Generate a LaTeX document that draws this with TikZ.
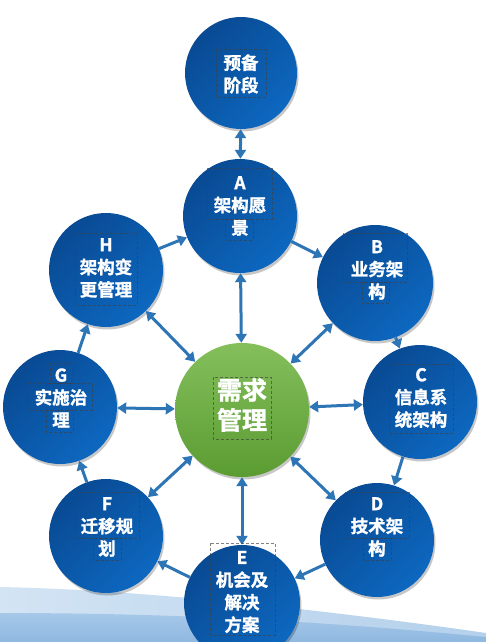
\documentclass[tikz,border=0pt]{standalone}
\usepackage{fontspec}
\newfontfamily\cjk{Noto Sans CJK SC Bold}[FakeBold=1.3]
\usetikzlibrary{arrows.meta,shadows}
\definecolor{arrowblue}{HTML}{2E75B6}
\definecolor{cdark}{HTML}{094A93}
\definecolor{clight}{HTML}{0D68C0}
\definecolor{gtop}{HTML}{84BF5C}
\definecolor{gbot}{HTML}{5B9C32}
\definecolor{wavelightL}{HTML}{D3E4F4}
\definecolor{wavelightR}{HTML}{B4D0EB}
\definecolor{wavedarkT}{HTML}{A6C8E9}
\definecolor{wavedarkB}{HTML}{8FB8E0}
\tikzset{
  phase/.style={circle, minimum size=#1, inner sep=0pt, top color=cdark, bottom color=clight, shading angle=45,
    drop shadow={shadow xshift=1.5pt, shadow yshift=-2.5pt, fill=black, opacity=0.22}},
  hub/.style={circle, minimum size=#1, inner sep=0pt, top color=gtop, bottom color=gbot,
    drop shadow={shadow xshift=1.5pt, shadow yshift=-2.5pt, fill=black, opacity=0.22}},
  lbl/.style={text=white, align=center, inner sep=0pt, font=\cjk\fontsize{17.5}{22.5}\selectfont},
  hublbl/.style={text=white, align=center, inner sep=0pt, font=\cjk\fontsize{25}{30}\selectfont},
  tbox/.style={draw=black!75, opacity=0.65, line width=0.7pt, dash pattern=on 3pt off 2pt},
  flow/.style={draw=arrowblue, line width=3pt, -{Triangle[length=9pt,width=11pt]}},
  both/.style={draw=arrowblue, line width=3pt, {Triangle[length=9pt,width=11pt]}-{Triangle[length=9pt,width=11pt]}}
}
\begin{document}
\begin{tikzpicture}[x=1pt,y=-1pt]
\clip (0,0) rectangle (486,642);
\fill[white] (0,0) rectangle (486,642);
% background wave
\shade[left color=wavelightL, right color=wavelightR] (0,587) .. controls (150,590) and (340,612) .. (486,633) -- (486,642) -- (0,642) -- cycle;
\shade[top color=wavedarkT, bottom color=wavedarkB] (0,613) .. controls (200,613) and (350,624) .. (486,637) -- (486,642) -- (0,642) -- cycle;
% circles
\node[phase=112] (P) at (241,73) {};
\node[phase=114] (A) at (240,216) {};
\node[phase=116] (B) at (375,283) {};
\node[phase=114] (C) at (420,402) {};
\node[phase=114] (D) at (377,540) {};
\node[phase=116] (E) at (242,603) {};
\node[phase=114] (F) at (106,536) {};
\node[phase=114] (G) at (60,407) {};
\node[phase=114] (H) at (106,270) {};
\node[hub=134] (M) at (242,410) {};
% arrows
\draw[both] (P) -- (A);
\draw[flow] (A) -- (B);
\draw[flow] (B) -- (C);
\draw[flow] (C) -- (D);
\draw[flow] (D) -- (E);
\draw[flow] (E) -- (F);
\draw[flow] (F) -- (G);
\draw[flow] (G) -- (H);
\draw[flow] (H) -- (A);
\foreach \n in {A,B,C,D,E,F,G,H} \draw[both] (M) -- (\n);
% labels
\node[lbl] (tP) at (241,74) {预备\\阶段};
\node[lbl] (tA) at (240,206) {A\\架构愿\\景};
\node[lbl] (tB) at (377,270) {B\\业务架\\构};
\node[lbl] (tC) at (421,398) {C\\信息系\\统架构};
\node[lbl] (tD) at (377,527) {D\\技术架\\构};
\node[lbl] (tE) at (242,592) {E\\机会及\\解决\\方案};
\node[lbl] (tF) at (107,527) {F\\迁移规\\划};
\node[lbl] (tG) at (61,398) {G\\实施治\\理};
\node[lbl] (tH) at (106,268) {H\\架构变\\更管理};
\node[hublbl] (tM) at (242,405) {需求\\管理};
% dashed text frames
\draw[tbox] (216,49) rectangle (266,97);
\draw[tbox] (207,168) rectangle (272,219);
\draw[tbox] (225,219) rectangle (253,240);
\draw[tbox] (343,233) rectangle (407,282);
\draw[tbox] (362,282) rectangle (389,303);
\draw[tbox] (389,364) rectangle (453,433);
\draw[tbox] (345,492) rectangle (409,538);
\draw[tbox] (363,538) rectangle (391,560);
\draw[tbox] (210,543) rectangle (275,635);
\draw[tbox] (75,492) rectangle (139,538);
\draw[tbox] (93,538) rectangle (121,560);
\draw[tbox] (50,363) rectangle (73,383);
\draw[tbox] (27,383) rectangle (92,410);
\draw[tbox] (46,410) rectangle (73,432);
\draw[tbox] (75,233) rectangle (137,305);
\draw[tbox] (213,377) rectangle (271,439);
\end{tikzpicture}
\end{document}
